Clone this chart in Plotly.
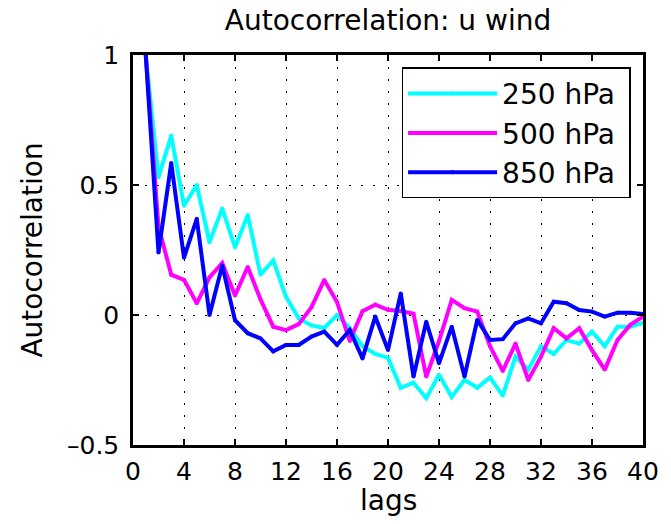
import plotly.graph_objects as go

lags = list(range(1, 41))

ac_250 = [1.0, 0.53, 0.69, 0.42, 0.50, 0.28, 0.41, 0.26, 0.385, 0.155,
          0.21, 0.07, -0.013, -0.04, -0.05, 0.0, -0.05, -0.12, -0.15, -0.165,
          -0.28, -0.26, -0.32, -0.23, -0.315, -0.25, -0.28, -0.24, -0.31, -0.16,
          -0.21, -0.12, -0.15, -0.096, -0.11, -0.064, -0.12, -0.045, -0.045, -0.03]

ac_500 = [1.0, 0.34, 0.155, 0.135, 0.045, 0.145, 0.20, 0.075, 0.185, 0.06,
          -0.045, -0.058, -0.035, 0.03, 0.135, 0.05, -0.10, 0.015, 0.04, 0.02,
          0.015, 0.005, -0.237, -0.10, 0.058, 0.026, 0.013, -0.12, -0.215, -0.11,
          -0.25, -0.16, -0.051, -0.09, -0.051, -0.135, -0.21, -0.096, -0.038, -0.006]

ac_850 = [1.0, 0.24, 0.585, 0.22, 0.37, 0.0, 0.19, -0.02, -0.07, -0.09,
          -0.14, -0.115, -0.115, -0.083, -0.064, -0.115, -0.058, -0.167, -0.006, -0.135,
          0.083, -0.237, -0.026, -0.186, -0.045, -0.237, -0.019, -0.096, -0.093, -0.032,
          -0.013, -0.032, 0.051, 0.045, 0.019, 0.013, -0.006, 0.009, 0.009, 0.004]

series_names = ["250 hPa", "500 hPa", "850 hPa"]
series_colors = ["#00FFFF", "#FF00FF", "#0000FF"]
series_values = [ac_250, ac_500, ac_850]

x_ticks = list(range(0, 41, 4))
y_ticks = [-0.5, 0, 0.5, 1]
y_tick_labels = ["\u20130.5", "0", "0.5", "1"]

FONT = "DejaVu Sans"
TICK_SIZE = 25
LABEL_SIZE = 28

W, H = 671, 524

fig = go.Figure()
for name, color, vals in zip(series_names, series_colors, series_values):
    fig.add_trace(go.Scatter(
        x=lags, y=vals, name=name + "\u00a0", mode="lines+markers",
        line=dict(color=color, width=4),
        marker=dict(color=color, size=4, symbol="circle"),
    ))

axis_common = dict(
    showline=True, linecolor="black", linewidth=2.5, mirror="ticks",
    ticks="inside", ticklen=6, tickwidth=2, tickcolor="black",
    showgrid=True, gridcolor="black", gridwidth=1.3, griddash="2px,10px",
    zeroline=False, automargin=False,
    tickfont=dict(family=FONT, size=TICK_SIZE, color="black"),
)

fig.update_xaxes(
    range=[0, 40], tickvals=x_ticks, ticklabelstandoff=2,
    **axis_common,
)
fig.update_yaxes(
    range=[-0.5, 1], tickvals=y_ticks, ticktext=y_tick_labels, ticklabelstandoff=6,
    title=dict(text="Autocorrelation", font=dict(family=FONT, size=LABEL_SIZE, color="black"), standoff=17),
    **axis_common,
)

fig.update_layout(
    width=W, height=H,
    margin=dict(l=133, r=28, t=55, b=79),
    paper_bgcolor="white", plot_bgcolor="white",
    font=dict(family=FONT, size=TICK_SIZE, color="black"),
    title=dict(text="Autocorrelation: u wind", x=0.5, xref="paper", xanchor="center",
               y=1 - 20 / H, yanchor="middle", yref="container",
               font=dict(family=FONT, size=LABEL_SIZE, color="black")),
    legend=dict(x=0.527, y=0.968, xanchor="left", yanchor="top",
                bgcolor="white", bordercolor="black", borderwidth=1.3,
                font=dict(family=FONT, size=LABEL_SIZE, color="black"),
                itemwidth=89, tracegroupgap=0),
    showlegend=True,
    annotations=[dict(text="lags", xref="paper", yref="paper", x=0.5, y=-0.142,
                      xanchor="center", yanchor="middle", showarrow=False,
                      font=dict(family=FONT, size=LABEL_SIZE, color="black"))],
)

# remove the default 8px page margin so the figure fills the window exactly
fig.write_html("out.html", config={"displayModeBar": False},
               post_script="document.body.style.margin='0';")
